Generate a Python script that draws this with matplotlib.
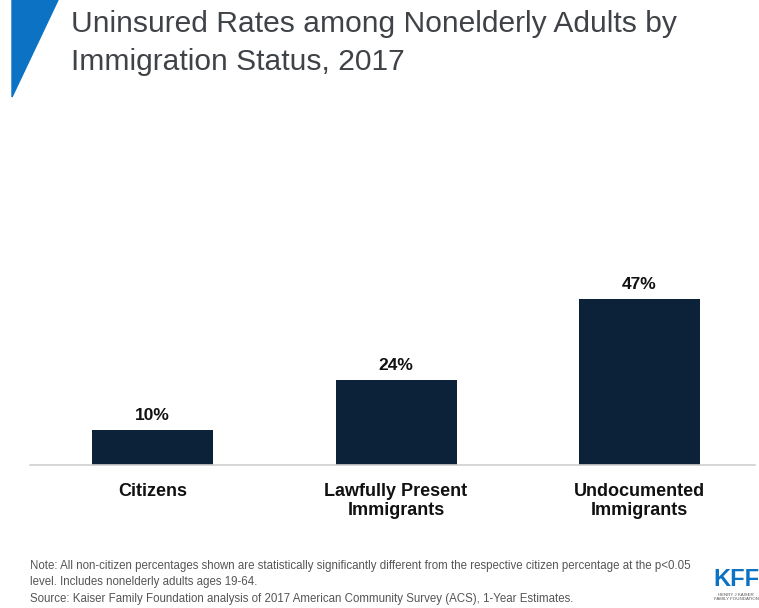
import matplotlib
matplotlib.use("Agg")
import matplotlib.pyplot as plt
from matplotlib.patches import Polygon
from matplotlib import font_manager

categories = ["Citizens", "Lawfully Present\nImmigrants", "Undocumented\nImmigrants"]
values = [10, 24, 47]
labels = ["10%", "24%", "47%"]

names = {f.name for f in font_manager.fontManager.ttflist}
narrow = "Liberation Sans Narrow" if "Liberation Sans Narrow" in names else "Liberation Sans"

fig = plt.figure(figsize=(7.59, 6.08), dpi=100)
W, H = 759, 608

# blue triangle
tri = Polygon([(12 / W, 1 - 0 / H), (58 / W, 1 - 0 / H), (12 / W, 1 - 97 / H)],
              closed=True, transform=fig.transFigure, color="#0B72C4", zorder=1)
fig.patches.append(tri)

fig.text(71 / W, 1 - 10 / H, "Uninsured Rates among Nonelderly Adults by\nImmigration Status, 2017",
         fontsize=21.6, color="#3F4348", family="Liberation Sans", va="top",
         linespacing=1.45)

ax = fig.add_axes([30 / W, (H - 465) / H, 725 / W, 205 / H])
x = list(range(len(values)))
bars = ax.bar(x, values, width=0.497, color="#0B2239")
ax.set_xlim(-0.503, 2.474)
ax.set_ylim(0, 58)
for b, lab in zip(bars, labels):
    ax.text(b.get_x() + b.get_width() / 2, b.get_height() + 2.0, lab,
            ha="center", va="bottom", fontsize=12.5, fontweight="bold",
            family=narrow, color="#111111")
for s in ["top", "right", "left"]:
    ax.spines[s].set_visible(False)
ax.spines["bottom"].set_color("#D0D0D0")
ax.spines["bottom"].set_linewidth(1.2)
ax.set_yticks([])
ax.set_xticks(x)
ax.set_xticklabels(categories, fontsize=13, fontweight="bold", family=narrow,
                   color="#111111", linespacing=1.15)
ax.tick_params(axis="x", length=0, pad=13)

fig.text(30 / W, 1 - 560 / H,
         "Note: All non-citizen percentages shown are statistically significantly different from the respective citizen percentage at the p<0.05\n"
         "level. Includes nonelderly adults ages 19-64.\n"
         "Source: Kaiser Family Foundation analysis of 2017 American Community Survey (ACS), 1-Year Estimates.",
         fontsize=8.3, family=narrow, color="#555555", va="top", linespacing=1.5)

fig.text(736 / W, 1 - 568 / H, "KFF", fontsize=17, fontweight="bold", family=narrow,
         color="#0B72C4", ha="center", va="top")
fig.text(736 / W, 1 - 593 / H, "HENRY J KAISER\nFAMILY FOUNDATION", fontsize=3.2, family=narrow,
         color="#555555", ha="center", va="top", linespacing=1.1)

fig.savefig("out.png", dpi=100, facecolor="white")
